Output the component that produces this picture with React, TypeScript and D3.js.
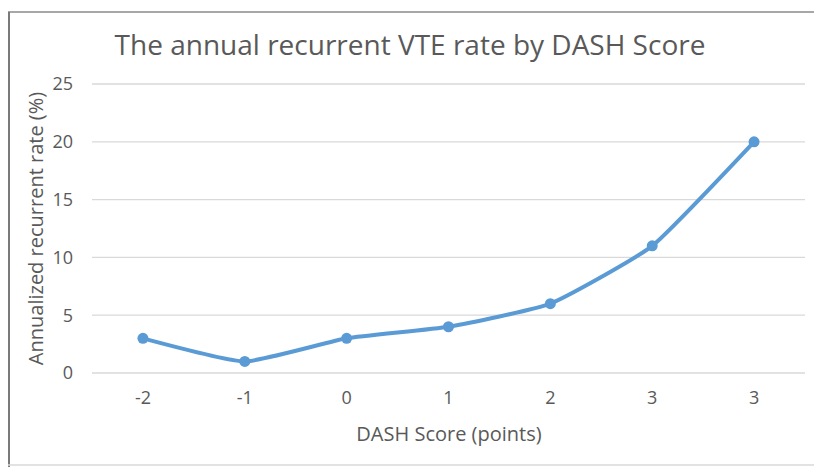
import React from 'react';
import * as d3 from 'd3';

const categories = ['-2', '-1', '0', '1', '2', '3', '3 '];
const rates = [3, 1, 3, 4, 6, 11, 20];
const yTicks = [0, 5, 10, 15, 20, 25];

const App = () => {
  const width = 814;
  const height = 467;
  const margin = { top: 84, right: 9, bottom: 94, left: 92 };

  const xScale = d3.scaleBand()
    .domain(categories)
    .range([margin.left, width - margin.right]);

  const yScale = d3.scaleLinear()
    .domain([0, 25])
    .range([height - margin.bottom, margin.top]);

  const cx = (i: number) => xScale(categories[i])! + xScale.bandwidth() / 2;

  // Excel-style smoothed line, fairly tight
  const line = d3.line<number>()
    .x((d, i) => cx(i))
    .y(d => yScale(d))
    .curve(d3.curveCardinal.tension(0.55));

  const font = 'Open Sans, Liberation Sans, sans-serif';
  const grey = '#595959';

  return (
    <svg width={width} height={height} style={{ position: 'absolute', left: 0, top: 0 }}>
      <rect width={width} height={height} fill="#fff" />
      {/* chart frame */}
      <line x1={8} x2={width} y1={12} y2={12} stroke="#8a8a8a" strokeWidth={1.5} />
      <line x1={9} x2={9} y1={12} y2={height} stroke="#7a7a7a" strokeWidth={2} />
      <line x1={8} x2={width} y1={465} y2={465} stroke="#d9d9d9" strokeWidth={1.5} />

      <text x={410} y={55} textAnchor="middle" fontFamily={font} fontSize={28} fill={grey}>
        The annual recurrent VTE rate by DASH Score
      </text>

      {/* gridlines + y ticks */}
      {yTicks.map(t => (
        <g key={t}>
          <line x1={margin.left} x2={width - margin.right} y1={yScale(t)} y2={yScale(t)}
            stroke="#d9d9d9" strokeWidth={1.3} />
          <text x={73} y={yScale(t)} dy="0.36em" textAnchor="end" fontFamily={font} fontSize={18} fill={grey}>
            {t}
          </text>
        </g>
      ))}

      {categories.map((c, i) => (
        <text key={i} x={cx(i)} y={404} textAnchor="middle" fontFamily={font} fontSize={18} fill={grey}>
          {c.trim()}
        </text>
      ))}

      <text x={449} y={441} textAnchor="middle" fontFamily={font} fontSize={20} fill={grey}>
        DASH Score (points)
      </text>
      <text transform={`translate(43,${(yScale(0) + yScale(25)) / 2}) rotate(-90)`} textAnchor="middle"
        fontFamily={font} fontSize={20} fill={grey}>
        Annualized recurrent rate (%)
      </text>

      <path d={line(rates)!} fill="none" stroke="#5b9bd5" strokeWidth={4} strokeLinejoin="round" />
      {rates.map((r, i) => (
        <circle key={i} cx={cx(i)} cy={yScale(r)} r={5.5} fill="#5b9bd5" />
      ))}
    </svg>
  );
};

export default App;
